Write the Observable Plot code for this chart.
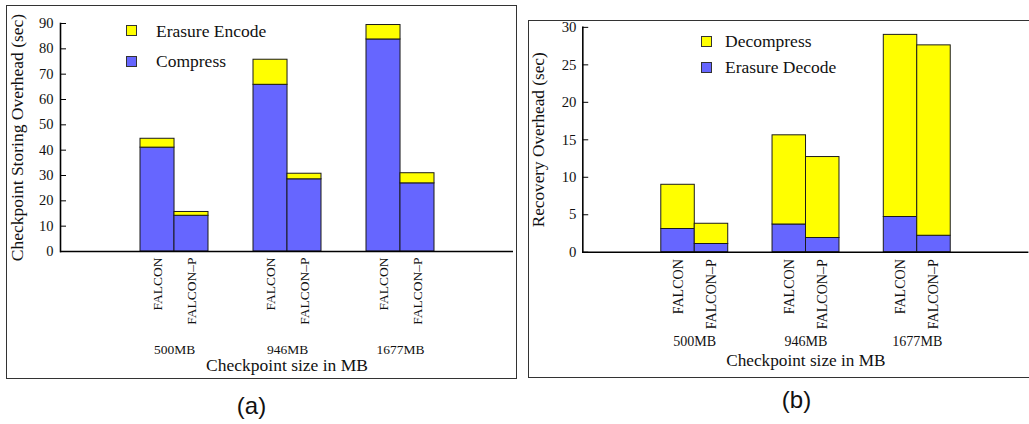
<!DOCTYPE html>
<html><head><meta charset="utf-8">
<script src="https://cdn.jsdelivr.net/npm/d3@7"></script>
<script src="https://cdn.jsdelivr.net/npm/@observablehq/plot@0.6"></script>
<style>
body{margin:0;background:#fff;}
#root{position:relative;width:1029px;height:424px;overflow:hidden;background:#fff;}
.panel{position:absolute;top:0;}
.frame{position:absolute;border:1.6px solid #333;box-sizing:border-box;pointer-events:none;}
.lg{position:absolute;font-family:"Liberation Serif",serif;font-size:17.5px;color:#111;line-height:20px;transform:translateY(-50%);white-space:nowrap;}
.sw{position:absolute;width:11px;height:11px;border:1px solid #333;box-sizing:border-box;}
.cap{position:absolute;font-family:"Liberation Sans",Arial,sans-serif;font-size:24px;color:#111;transform:translate(-50%,-50%);line-height:28px;}
</style></head><body><div id="root"></div>
<script>
// ---- data ----
const sizes = ["500MB", "946MB", "1677MB"];
const systems = ["FALCON", "FALCON\u2013P"];
// (a) checkpoint storing overhead (sec)
const compressFalcon   = [41.0, 65.8, 83.7];
const compressFalconP  = [14.1, 28.5, 26.9];
const encodeFalcon     = [3.5, 9.9, 5.7];
const encodeFalconP    = [1.5, 2.2, 4.0];
// (b) recovery overhead (sec)
const decodeFalcon      = [3.1, 3.7, 4.7];
const decodeFalconP     = [1.1, 1.9, 2.2];
const decompressFalcon  = [5.9, 11.9, 24.3];
const decompressFalconP = [2.7, 10.8, 25.4];
const yTicksA = [0, 10, 20, 30, 40, 50, 60, 70, 80, 90];
const yTicksB = [0, 5, 10, 15, 20, 25, 30];
const partsA = ["Compress", "Erasure Encode"];   // bottom, top
const partsB = ["Erasure Decode", "Decompress"]; // bottom, top
const blue = "#6666ff", yellow = "#ffff00";

function rowsFrom(parts, bottom, top) {
  const rows = [];
  systems.forEach((s, si) => {
    sizes.forEach((z, i) => {
      rows.push({size: z, system: s, part: parts[0], value: bottom[si][i]});
      rows.push({size: z, system: s, part: parts[1], value: top[si][i]});
    });
  });
  return rows;
}
const rowsA = rowsFrom(partsA, [compressFalcon, compressFalconP], [encodeFalcon, encodeFalconP]);
const rowsB = rowsFrom(partsB, [decodeFalcon, decodeFalconP], [decompressFalcon, decompressFalconP]);

function panel(o) {
  const inner = o.width - o.mL - o.mR;
  const half = (inner / 4) * 0.6 / 2;
  const labelRows = sizes.flatMap(z => systems.map(s => ({size: z, system: s})));
  const marks = [];
  systems.forEach((s, si) => {
    marks.push(Plot.barY(o.rows.filter(d => d.system === s), {
      x: "size", y: "value", fill: "part", stroke: "#1a1a1a", strokeWidth: 1,
      insetLeft: si === 0 ? 0 : half, insetRight: si === 0 ? half : 0
    }));
    marks.push(Plot.text(labelRows.filter(d => d.system === s), {
      x: "size", text: "system", frameAnchor: "bottom", rotate: -90, textAnchor: "end", lineAnchor: "middle",
      dx: si === 0 ? -half / 2 : half / 2, dy: o.sysDy, fontSize: o.sysFont, fill: "#111"
    }));
  });
  marks.push(
    Plot.ruleY([0], {stroke: "#000", strokeWidth: 1.6}),
    Plot.frame({anchor: "left", stroke: "#000", strokeWidth: 1.6}),
    Plot.axisY({ticks: o.yTicks, tickSize: 0, tickPadding: o.tickPad, fontSize: o.tickFont, label: null, fill: "#111"}),
    Plot.axisY({ticks: o.yTicks, tickSize: -6, tickFormat: () => "", label: null, stroke: "#000"}),
    Plot.text(sizes, {x: d => d, frameAnchor: "bottom", lineAnchor: "middle", dy: o.sizeDy, fontSize: o.sizeFont, fill: "#111"}),
    Plot.text(["Checkpoint size in MB"], {frameAnchor: "bottom", lineAnchor: "middle", textAnchor: "middle", dy: o.titleDy, fontSize: 17.5, fill: "#111"}),
    Plot.text([o.yLabel], {frameAnchor: "left", textAnchor: "middle", lineAnchor: "middle", dx: -o.yLabDx, rotate: -90, fontSize: 17.5, fill: "#111"})
  );
  return Plot.plot({
    width: o.width, height: o.height,
    marginLeft: o.mL, marginRight: o.mR, marginTop: o.mT, marginBottom: o.mB,
    style: {fontFamily: "Liberation Serif, serif", background: "transparent", overflow: "visible"},
    x: {domain: sizes, paddingInner: 0.4, paddingOuter: 0.7, axis: null},
    y: {domain: [0, o.yMax], axis: null},
    color: {domain: o.parts, range: [blue, yellow]},
    marks
  });
}

const root = document.getElementById("root");
function place(el, left, top) {
  const d = document.createElement("div");
  d.className = "panel"; d.style.left = left + "px"; d.style.top = top + "px";
  d.appendChild(el); root.appendChild(d);
}
place(panel({rows: rowsA, parts: partsA, yMax: 90, yTicks: yTicksA, yLabel: "Checkpoint Storing Overhead (sec)",
  width: 520, height: 380, mL: 60, mR: 7, mT: 23, mB: 129,
  tickFont: 14.5, tickPad: 7, sysFont: 13.5, sysDy: 6, sizeFont: 13.5, sizeDy: 98, titleDy: 114, yLabDx: 43.5}), 0, 0);
place(panel({rows: rowsB, parts: partsB, yMax: 30, yTicks: yTicksB, yLabel: "Recovery Overhead (sec)",
  width: 517, height: 380, mL: 63.3, mR: 0.6, mT: 27.3, mB: 124.3,
  tickFont: 15, tickPad: 6.5, sysFont: 14.3, sysDy: 7, sizeFont: 14.3, sizeDy: 91, titleDy: 109.5, yLabDx: 45.5}), 520, 0);

function frame(l, t, w, h) {
  const f = document.createElement("div"); f.className = "frame";
  Object.assign(f.style, {left: l + "px", top: t + "px", width: w + "px", height: h + "px"});
  root.appendChild(f);
}
frame(6, 4.5, 510.5, 374);
frame(528, 20, 520, 357.5);

function legend(x, ys, parts, colors, textX) {
  parts.forEach((p, i) => {
    const s = document.createElement("div"); s.className = "sw";
    Object.assign(s.style, {left: x + "px", top: (ys[i] - 5.5) + "px", background: colors[i]});
    root.appendChild(s);
    const t = document.createElement("div"); t.className = "lg"; t.textContent = p;
    Object.assign(t.style, {left: textX + "px", top: ys[i] + "px"});
    root.appendChild(t);
  });
}
legend(126, [30.5, 61], ["Erasure Encode", "Compress"], [yellow, blue], 156);
legend(701, [41.3, 67], ["Decompress", "Erasure Decode"], [yellow, blue], 725);

function caption(text, x, y) {
  const c = document.createElement("div"); c.className = "cap"; c.textContent = text;
  Object.assign(c.style, {left: x + "px", top: y + "px"}); root.appendChild(c);
}
caption("(a)", 251.5, 406);
caption("(b)", 796.5, 400);
</script>
</body></html>
